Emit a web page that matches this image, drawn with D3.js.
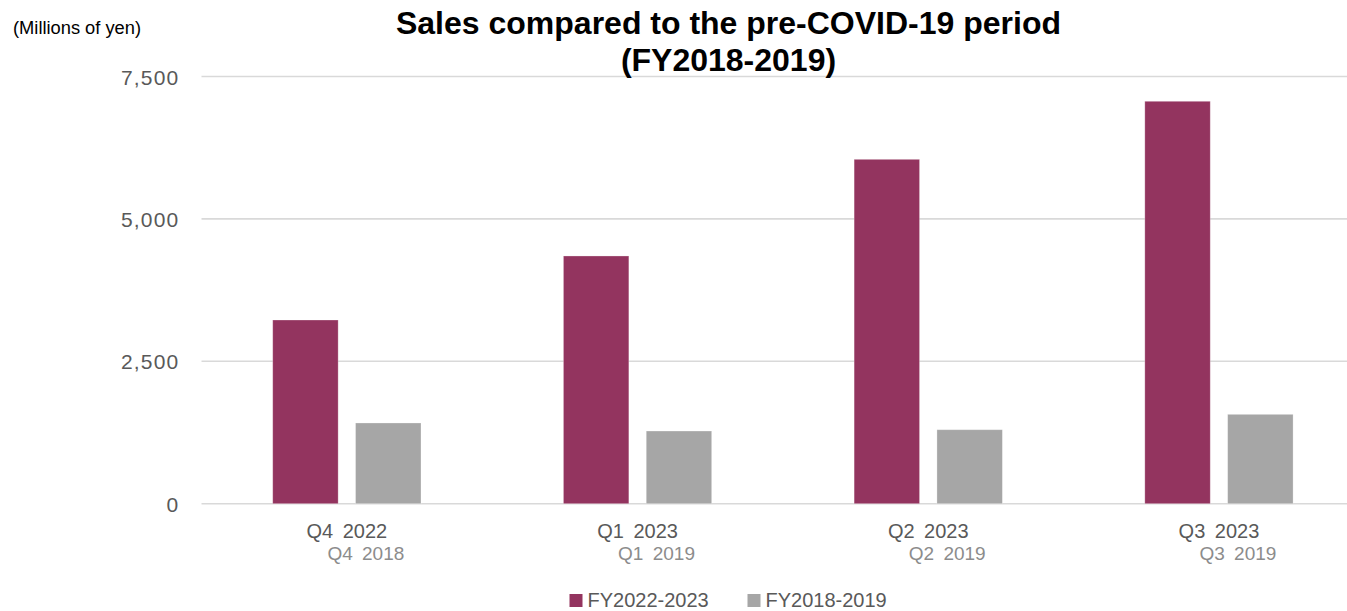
<!DOCTYPE html>
<html>
<head>
<meta charset="utf-8">
<script src="https://cdn.jsdelivr.net/npm/d3@7/dist/d3.min.js"></script>
<style>
  html, body { margin: 0; padding: 0; background: #fff; }
  svg { display: block; }
</style>
</head>
<body>
<svg id="chart" width="1347" height="611"></svg>
<script>
// ---- data ----
const categories = ["Q4 2022", "Q1 2023", "Q2 2023", "Q3 2023"];
const compareLabels = ["Q4 2018", "Q1 2019", "Q2 2019", "Q3 2019"];
const seriesNames = ["FY2022-2023", "FY2018-2019"];
const fy2022_2023 = [3225, 4349, 6046, 7065];
const fy2018_2019 = [1417, 1276, 1299, 1569];
const yTicks = [0, 2500, 5000, 7500];
const titleLines = ["Sales compared to the pre-COVID-19 period", "(FY2018-2019)"];
const unitLabel = "(Millions of yen)";
const colors = ["#93345F", "#A6A6A6"];

const series = [fy2022_2023, fy2018_2019];
const svg = d3.select("#chart");
const labelFont = "'Liberation Sans', Arial, sans-serif";

// ---- scales ----
const x0 = d3.scaleBand().domain(categories).range([201.5, 1364.3]).paddingInner(0).paddingOuter(0);
const bw = x0.bandwidth();
const x1 = d3.scaleBand().domain(seriesNames).range([bw * 0.245, bw * 0.755]).paddingInner(0.21).paddingOuter(0);
const y = d3.scaleLinear().domain([0, 7500]).range([503.7, 76.5]);

// ---- grid ----
svg.append("g").selectAll("line").data(yTicks).join("line")
  .attr("x1", 201.5).attr("x2", 1347)
  .attr("y1", d => y(d)).attr("y2", d => y(d))
  .attr("stroke", "#d9d9d9").attr("stroke-width", 1.6);

// y axis labels
const yAxis = d3.axisLeft(y).tickValues(yTicks).tickFormat(d3.format(",")).tickSize(0).tickPadding(0);
const ya = svg.append("g").attr("transform", "translate(179.5,0)").call(yAxis);
ya.select(".domain").remove();
ya.selectAll("text")
  .attr("font-family", labelFont).attr("font-size", 21).attr("fill", "#595959")
  .attr("letter-spacing", "1.2px")
  .attr("dy", "0.36em");

// ---- bars ----
const groups = svg.append("g").selectAll("g").data(categories).join("g")
  .attr("transform", d => `translate(${x0(d)},0)`);
groups.selectAll("rect")
  .data((d, i) => seriesNames.map((s, k) => ({ s, v: series[k][i], k })))
  .join("rect")
  .attr("x", d => x1(d.s))
  .attr("width", x1.bandwidth())
  .attr("y", d => y(d.v))
  .attr("height", d => y(0) - y(d.v))
  .attr("fill", d => colors[d.k])
  .attr("stroke", "#ffffff").attr("stroke-opacity", 0.35).attr("stroke-width", 0.8);

// ---- category labels ----
const xa = svg.append("g");
xa.selectAll("text.c1").data(categories).join("text")
  .attr("class", "c1")
  .attr("x", d => x0(d) + bw / 2).attr("y", 538)
  .attr("text-anchor", "middle")
  .attr("font-family", labelFont).attr("font-size", 20).attr("fill", "#595959")
  .attr("word-spacing", "4px")
  .text(d => d);
xa.selectAll("text.c2").data(compareLabels).join("text")
  .attr("class", "c2")
  .attr("x", (d, i) => x0(categories[i]) + bw / 2 + 19).attr("y", 559.5)
  .attr("text-anchor", "middle")
  .attr("font-family", labelFont).attr("font-size", 19).attr("fill", "#8c8c8c")
  .attr("word-spacing", "4px")
  .text(d => d);

// ---- title ----
svg.append("text")
  .attr("x", 728.5).attr("y", 34)
  .attr("text-anchor", "middle")
  .attr("font-family", "'Liberation Sans', Arial, sans-serif")
  .attr("font-weight", "bold").attr("font-size", 32).attr("fill", "#000")
  .selectAll("tspan").data(titleLines).join("tspan")
  .attr("x", 728.5).attr("dy", (d, i) => i === 0 ? 0 : 37)
  .text(d => d);

svg.append("text")
  .attr("x", 13).attr("y", 34)
  .attr("font-family", "'Liberation Sans', Arial, sans-serif")
  .attr("font-size", 18.3).attr("fill", "#000")
  .text(unitLabel);

// ---- legend ----
const legendX = [569.5, 747.5];
const lg = svg.append("g").selectAll("g").data(seriesNames).join("g")
  .attr("transform", (d, i) => `translate(${legendX[i]},0)`);
lg.append("rect").attr("x", 0).attr("y", 594).attr("width", 13).attr("height", 13)
  .attr("fill", (d, i) => colors[i]);
lg.append("text").attr("x", 18).attr("y", 606.5)
  .attr("font-family", labelFont).attr("font-size", 20).attr("fill", "#595959")
  .text(d => d);
</script>
</body>
</html>
